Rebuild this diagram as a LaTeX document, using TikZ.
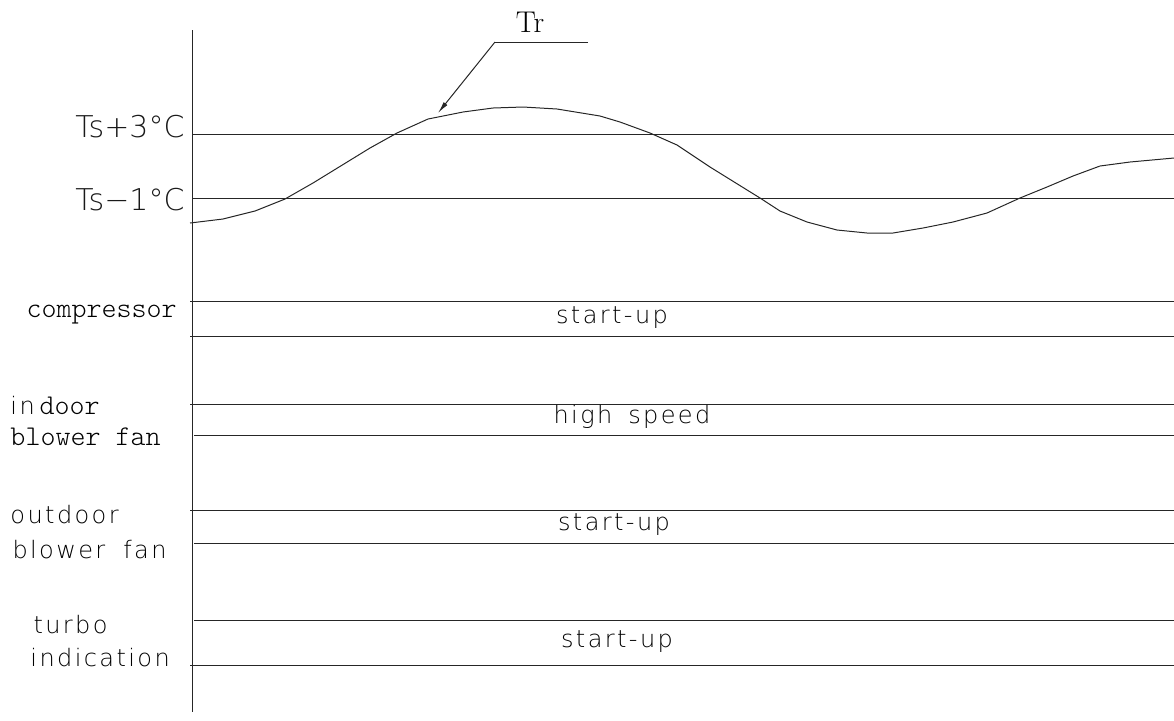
\documentclass[tikz,border=0pt]{standalone}
\usepackage{fontspec}
\newfontfamily\cadfont{DejaVu Sans ExtraLight}[LetterSpace=10]
\newfontfamily\tsfont{DejaVu Sans ExtraLight}
\newfontfamily\monolt{lmmonolt10-regular.otf}
\usetikzlibrary{arrows.meta}

\begin{document}
\begin{tikzpicture}[x=0.5pt,y=-0.5pt,line width=0.5pt,
  ln/.style={draw=black!85},
  lbl/.style={inner sep=0pt,text=black,font=\cadfont\fontsize{12}{14}\selectfont},
  mono/.style={inner sep=0pt,anchor=mid west,text=black,font=\monolt\fontsize{14.3}{16}\selectfont},
  ts/.style={inner sep=0pt,anchor=east,text=black!90,font=\tsfont\fontsize{15}{17}\selectfont}]
  \useasboundingbox (0,0) rectangle (1174,720);
  % axis and thresholds
  \draw[ln] (192,30) -- (192,712);
  \draw[ln] (192,134) -- (1174,134);
  \draw[ln] (192,198) -- (1174,198);
  \node[ts] (ts3) at (185,127) {Ts+3°C};
  \node[ts] (ts1) at (185,200) {Ts−1°C};
  % room temperature
  \draw[ln,line join=round] plot coordinates {(190,223) (223,219) (255,211) (285,199)
    (313,183) (370,148) (397,133) (428,119) (463,112) (493,108) (523,107) (557,109)
    (600,116) (620,122) (650,133) (677,145) (710,167) (760,198) (780,211) (807,222)
    (837,230) (867,233) (893,233) (923,228) (953,222) (987,213) (1020,198) (1047,187)
    (1073,176) (1100,166) (1130,162) (1174,158)};
  \node[inner sep=0pt,font=\fontsize{15}{17}\selectfont] (tr) at (530,22) {Tr};
  \coordinate (trknee) at (495,42);
  \coordinate (trend) at (588,42);
  \coordinate (trtip) at (438,113);
  \draw[ln] (trend) -- (trknee);
  \draw[ln,-{Latex[length=6pt,width=2.4pt]}] (trknee) -- (trtip);
  % load bands
  \foreach \xa/\ya in {190/301,190/336,190/404,194/435,190/510,194/543,194/620,190/665}
    \draw[ln] (\xa,\ya) -- (1174,\ya);
  \node[mono] (comp) at (26,313) {compressor};
  \node[mono] (indoor) at (10,410) {{\cadfont\fontsize{12}{14}\selectfont in}\,door};
  \node[mono] (indoorfan) at (10,441) {blower fan};
  \node[lbl,anchor=mid west] (outdoor) at (10,519) {outdoor};
  \node[lbl,anchor=mid west] (outdoorfan) at (12,554) {blower\hspace{9pt}fan};
  \node[lbl,anchor=mid west] (turbo) at (33,629) {turbo};
  \node[lbl,anchor=mid west] (turboind) at (30,662) {indication};
  \foreach \n/\x/\y/\t in {compst/612/319/start-up,fanst/632/419/high\hspace{8pt}speed,
                           outst/614/526/start-up,turbost/617/643/start-up}
    \node[lbl,anchor=mid] (\n) at (\x,\y) {\t};
\end{tikzpicture}
\end{document}
